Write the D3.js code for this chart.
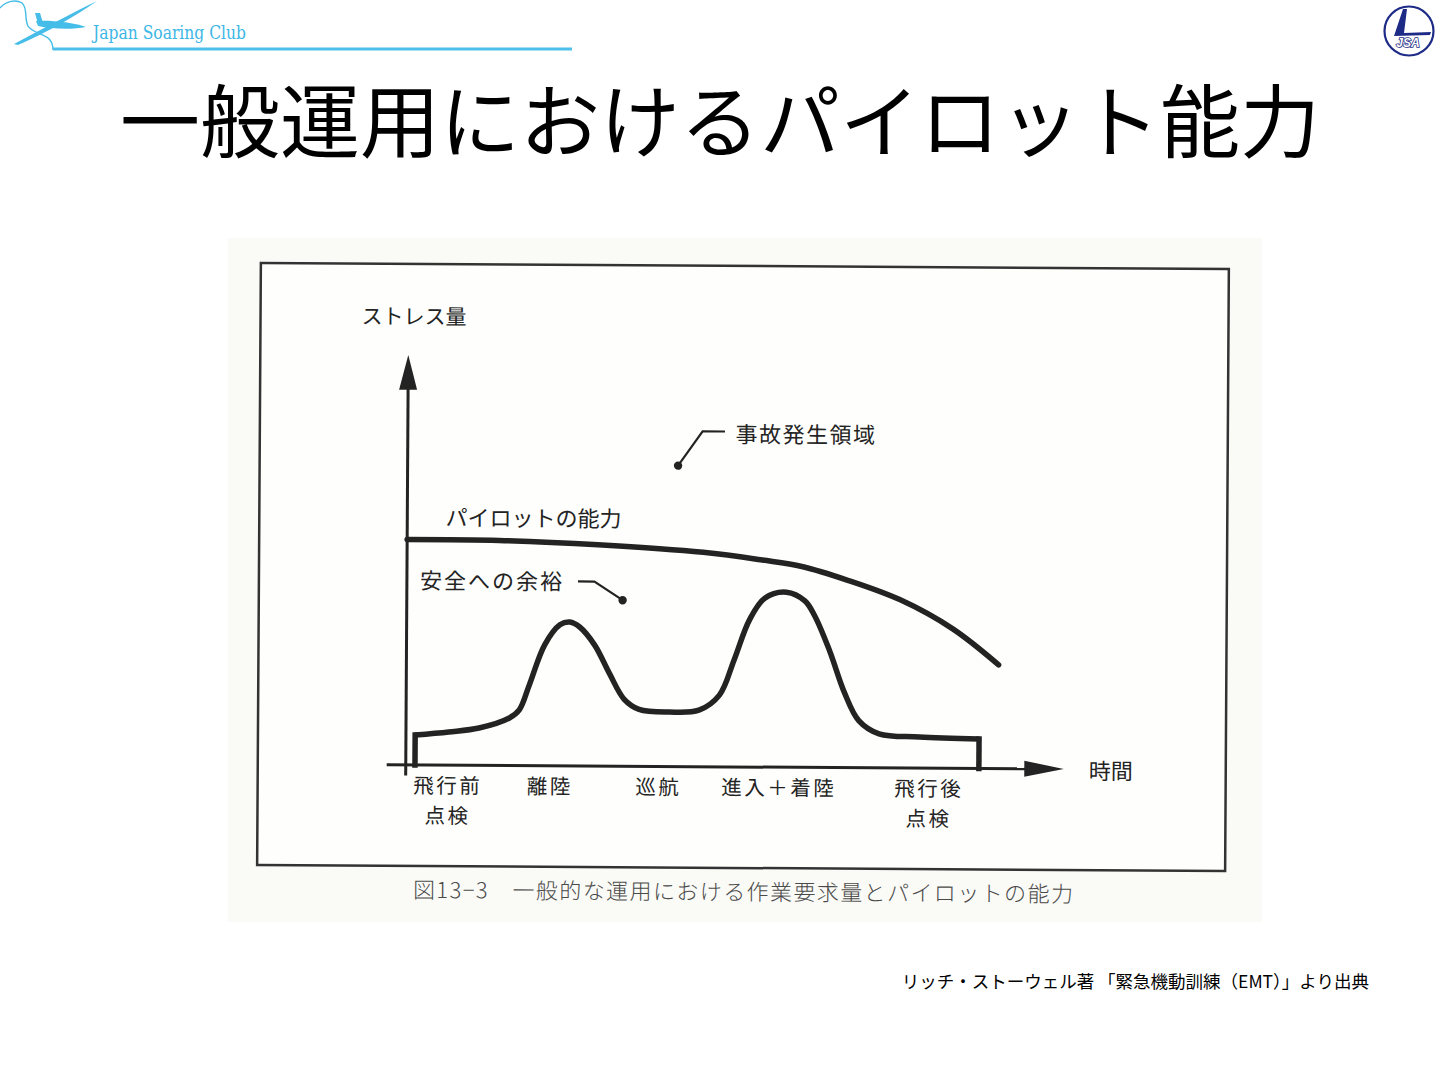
<!DOCTYPE html>
<html><head><meta charset="utf-8">
<script src="https://cdn.jsdelivr.net/npm/d3@7/dist/d3.min.js"></script>
<style>html,body{margin:0;padding:0;background:#fff;} svg{display:block;}</style>
</head><body>
<svg id="c" width="1440" height="1080"></svg>
<script>
// ---------- data ----------
const titleText = "一般運用におけるパイロット能力";
const yAxisLabel = "ストレス量";
const xAxisLabel = "時間";
const categories = ["飛行前\n点検", "離陸", "巡航", "進入＋着陸", "飛行後\n点検"];
const categoryTime = [6.4, 21.9, 38.4, 56.7, 79.5];

// pilot capability (time 0-100, stress 0-100)
const capabilityTime  = [0, 14, 29, 45, 54, 60, 67, 75, 83, 90];
const capabilityValue = [55, 54.9, 54, 52.3, 50.5, 49, 45.7, 41, 34, 25.3];

// workload / stress demand
const demandTime  = [1.4, 6.5, 11.1, 15.7, 17.2, 18.7, 21.0, 23.3, 24.8, 26.3, 28.6, 30.9, 33.1, 35.4, 40.0, 44.5, 47.6, 49.8, 52.1, 54.4, 57.7, 60.5, 62.0, 64.3, 66.6, 68.8, 71.9, 78.0, 87.1];
const demandValue = [7.3, 8.1, 9.1, 11.6, 13.6, 19.7, 29.5, 34.4, 35.1, 33.9, 29.5, 22.5, 16.4, 13.9, 13.3, 13.8, 17.5, 26.1, 35.9, 41.2, 42.7, 40.6, 37, 28.5, 18.3, 11.5, 8.3, 7.6, 7.2];

const capabilityLabel = "パイロットの能力";
const marginLabel = "安全への余裕";
const accidentLabel = "事故発生領域";
const captionText = "図13−3　一般的な運用における作業要求量とパイロットの能力";
const sourceText = "リッチ・ストーウェル著 「緊急機動訓練（EMT）」より出典";
const clubName = "Japan Soaring Club";

// ---------- drawing ----------
const svg = d3.select("#c");
const ink = "#232323";
const jp = "'Noto Sans CJK JP','Noto Sans',sans-serif";

// header logo
const logo = svg.append("g");
const blue = "#45bde8";
logo.append("path").attr("d","M0,8 C6,1 16,-1 22,3 C28,8 24,18 28,26 C32,33 46,34 50,40 C53,44 53,48 53,50")
  .attr("fill","none").attr("stroke",blue).attr("stroke-width",1.4);
logo.append("path").attr("d","M14,44 C40,30 70,14 97,1 C74,17 46,33 18,45 Z").attr("fill",blue);
logo.append("path").attr("d","M36,21 C50,20 72,22 86,27 C72,30 52,29 38,26 Z").attr("fill",blue);
logo.append("path").attr("d","M35,13 L40,13 L43,23 L38,24 Z").attr("fill",blue);
logo.append("line").attr("x1",53).attr("x2",572).attr("y1",49).attr("y2",49).attr("stroke","#4cc0ea").attr("stroke-width",3);
logo.append("text").attr("x",93).attr("y",39).text(clubName)
  .attr("font-family","'DejaVu Serif Condensed','Liberation Serif',serif").attr("font-size",19)
  .attr("fill","#3cb6e6").attr("textLength",153).attr("lengthAdjust","spacingAndGlyphs");

// JSA logo
const jsa = svg.append("g").attr("transform","translate(1409,31)");
jsa.append("circle").attr("r",24.5).attr("fill","#fff").attr("stroke","#1d2b86").attr("stroke-width",2.2);
jsa.append("path").attr("d","M-6,-22 L-2,-22 L-5,2 L22,1 L21,4 L-15,5 Z").attr("fill","#1d2b86");
jsa.append("text").attr("x",-1).attr("y",12).attr("text-anchor","middle").attr("dominant-baseline","central")
  .attr("font-family","'Liberation Sans',Arial,sans-serif").attr("font-weight","bold").attr("font-style","italic")
  .attr("font-size",12).attr("fill","#fff").attr("stroke","#1d2b86").attr("stroke-width",1.6).attr("paint-order","stroke")
  .text("JSA");

// title
svg.append("text").attr("x",720).attr("y",116).attr("text-anchor","middle").attr("dominant-baseline","central")
  .attr("font-family",jp).attr("font-size",80).attr("fill","#000").text(titleText);

// scanned figure background
svg.append("rect").attr("x",228).attr("y",238).attr("width",1034).attr("height",684).attr("fill","#fafaf7");

// figure group (slightly rotated like the scan)
const fig = svg.append("g").attr("transform","rotate(0.355,744,566)");
fig.append("rect").attr("x",259).attr("y",266).attr("width",968).attr("height",602)
  .attr("fill","#fefefc").attr("stroke","#333").attr("stroke-width",2.5);

const x = d3.scaleLinear().domain([0,100]).range([407,1065]);
const y = d3.scaleLinear().domain([0,100]).range([767,357]);

// axes
fig.append("line").attr("x1",x(0)).attr("x2",x(0)).attr("y1",y(-2.6)).attr("y2",y(92)).attr("stroke",ink).attr("stroke-width",3);
fig.append("path").attr("d",`M${x(0)},${y(100)} L${x(0)-9},${y(91.5)} L${x(0)+9},${y(91.5)} Z`).attr("fill",ink);
fig.append("line").attr("x1",x(-2.9)).attr("x2",x(95)).attr("y1",y(0)).attr("y2",y(0)).attr("stroke",ink).attr("stroke-width",3);
fig.append("path").attr("d",`M${x(100)},${y(0)} L${x(94)},${y(0)-8} L${x(94)},${y(0)+8} Z`).attr("fill",ink);

// axis labels
const lab = (g, xx, yy, t, size, anchor, ls) => g.append("text").attr("x",xx).attr("y",yy)
  .attr("text-anchor",anchor||"middle").attr("dominant-baseline","central")
  .attr("letter-spacing",ls||0)
  .attr("font-family",jp).attr("font-size",size||22).attr("fill",ink).text(t);
lab(fig, x(0)-47, 317, yAxisLabel, 21, "start");
lab(fig, x(103.8), y(0), xAxisLabel, 22, "start");

// category labels
categories.forEach((c,i) => {
  const lines = c.split("\n");
  lines.forEach((l,j) => lab(fig, x(categoryTime[i]), y(0)+19+j*30, l, 20.5, "middle", 2.5));
});

// capability curve
const capPts = capabilityTime.map((t,i)=>[t,capabilityValue[i]]);
const line = d3.line().x(d=>x(d[0])).y(d=>y(d[1])).curve(d3.curveCatmullRom.alpha(0.5));
fig.append("path").attr("d",line(capPts)).attr("fill","none").attr("stroke",ink).attr("stroke-width",5.5).attr("stroke-linecap","round");

// demand curve
const demPts = demandTime.map((t,i)=>[t,demandValue[i]]);
fig.append("path").attr("d",line(demPts)).attr("fill","none").attr("stroke",ink).attr("stroke-width",5.5).attr("stroke-linejoin","round");
const riser = d3.line().x(d=>x(d[0])).y(d=>y(d[1]));
const first = demPts[0], last = demPts[demPts.length-1];
fig.append("path").attr("d",riser([[first[0],0],first])).attr("fill","none").attr("stroke",ink).attr("stroke-width",5.5).attr("stroke-linecap","square");
fig.append("path").attr("d",riser([last,[last[0],0]])).attr("fill","none").attr("stroke",ink).attr("stroke-width",5.5).attr("stroke-linecap","square");

// annotations
lab(fig, x(5.8), y(60.8), capabilityLabel, 22, "start");
lab(fig, x(2), y(45.4), marginLabel, 22, "start", 2);
fig.append("path").attr("d",riser([[26,45],[28.5,45],[32.8,40.5]])).attr("fill","none").attr("stroke",ink).attr("stroke-width",2.2);
fig.append("circle").attr("cx",x(32.8)).attr("cy",y(40.5)).attr("r",4.2).attr("fill",ink);
lab(fig, x(49.8), y(81.6), accidentLabel, 22, "start", 1.5);
fig.append("path").attr("d",riser([[48.2,81.8],[44.8,81.8],[41.1,73.4]])).attr("fill","none").attr("stroke",ink).attr("stroke-width",2.2);
fig.append("circle").attr("cx",x(41.1)).attr("cy",y(73.4)).attr("r",4.2).attr("fill",ink);

// caption
fig.append("text").attr("x",415).attr("y",890).attr("dominant-baseline","central")
  .attr("font-family",jp).attr("font-weight",300).attr("font-size",22).attr("fill","#4a4a4a")
  .attr("textLength",660).attr("lengthAdjust","spacing").text(captionText);

// source
svg.append("text").attr("x",1369).attr("y",980).attr("text-anchor","end").attr("dominant-baseline","central")
  .attr("font-family",jp).attr("font-size",17.5).attr("fill","#000").text(sourceText);
</script>
</body></html>
